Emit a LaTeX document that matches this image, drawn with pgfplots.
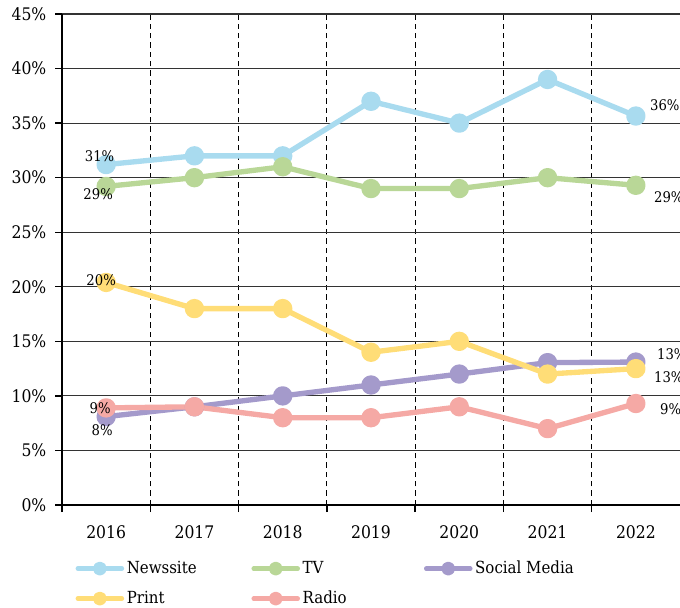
\documentclass[border=0pt]{standalone}
\usepackage{pgfplots}
\pgfplotsset{compat=1.18}
\usepackage{fontspec}
\setmainfont{DejaVu Serif Condensed}
\definecolor{cNews}{HTML}{A9DBEF}
\definecolor{cTV}{HTML}{B9D797}
\definecolor{cSoc}{HTML}{A49ACB}
\definecolor{cPrint}{HTML}{FFDD77}
\definecolor{cRadio}{HTML}{F5A9A5}
\begin{document}
\begin{tikzpicture}
\begin{axis}[name=ax, scale only axis, width=463.5pt, height=368.25pt,
  xmin=2015.5, xmax=2022.5, ymin=0, ymax=45, clip=false,
  axis x line=bottom, axis y line=left,
  axis line style={-, line width=1.5pt, black},
  xtick={2016,2017,2018,2019,2020,2021,2022},
  xticklabels={2016,2017,2018,2019,2020,2021,2022},
  minor xtick={2015.5,2016.5,2017.5,2018.5,2019.5,2020.5,2021.5},
  ytick={0,5,...,45},
  yticklabel={\pgfmathprintnumber{\tick}\%},
  /pgf/number format/assume math mode=true,
  tick align=outside, major tick length=5.25pt, minor tick length=5.25pt,
  major x tick style={draw=none},
  minor x tick style={black, line width=1pt},
  y tick style={black, line width=1pt},
  xminorgrids=true, ymajorgrids=true,
  minor x grid style={black, line width=0.8pt, dash pattern=on 4pt off 3pt},
  major y grid style={black!80, line width=0.8pt},
  ticklabel style={font=\fontsize{13}{15}\selectfont},
  yticklabel style={xshift=-3pt},
  xticklabel style={yshift=-7pt},
  every axis plot/.append style={line width=4pt, mark=*, mark size=5.25pt, line join=round},
  legend columns=3,
  legend cell align=left,
  legend style={at={(0,0)}, anchor=north west, xshift=10pt, yshift=-40pt,
    draw=none, fill=none, inner sep=0pt, row sep=7.5pt,
    font=\fontsize{12.5}{15}\selectfont},
  legend image code/.code={\draw[#1, line width=3.4pt, line cap=round] (0pt,0pt) -- (33pt,0pt); \fill[#1] (16.5pt,0pt) circle (3.2pt);},
]
\addplot[color=cNews] coordinates {(2016,31.2) (2017,32) (2018,32) (2019,37) (2020,35) (2021,39) (2022,35.65)};
\addlegendentry{\makebox[91.5pt][l]{Newssite}}
\addplot[color=cTV] coordinates {(2016,29.2) (2017,30) (2018,31) (2019,29) (2020,29) (2021,30) (2022,29.3)};
\addlegendentry{\makebox[89pt][l]{TV}}
\addplot[color=cSoc] coordinates {(2016,8.1) (2017,9) (2018,10) (2019,11) (2020,12) (2021,13.05) (2022,13.1)};
\addlegendentry{Social Media}
\addplot[color=cPrint] coordinates {(2016,20.4) (2017,18) (2018,18) (2019,14) (2020,15) (2021,12) (2022,12.5)};
\addlegendentry{\makebox[91.5pt][l]{Print}}
\addplot[color=cRadio] coordinates {(2016,8.9) (2017,9) (2018,8) (2019,8) (2020,9) (2021,7) (2022,9.3)};
\addlegendentry{\makebox[89pt][l]{Radio}}
\coordinate (n1) at (axis cs:2016,31.2);
\coordinate (t1) at (axis cs:2016,29.2);
\coordinate (p1) at (axis cs:2016,20.4);
\coordinate (r1) at (axis cs:2016,8.9);
\coordinate (s1) at (axis cs:2016,8.1);
\coordinate (n7) at (axis cs:2022,35.65);
\coordinate (t7) at (axis cs:2022,29.3);
\coordinate (s7) at (axis cs:2022,13.1);
\coordinate (p7) at (axis cs:2022,12.5);
\coordinate (r7) at (axis cs:2022,9.3);
\end{axis}
\begin{scope}[every node/.style={font=\fontsize{11}{13}\selectfont, inner sep=0pt}]
\node[xshift=-4.9pt, yshift=6pt] at (n1) {31\%};
\node[xshift=-6pt, yshift=-6pt] at (t1) {29\%};
\node[xshift=-3.75pt, yshift=1.5pt] at (p1) {20\%};
\node[xshift=-4.5pt, yshift=0pt] at (r1) {9\%};
\node[xshift=-3pt, yshift=-10.5pt] at (s1) {8\%};
\node[anchor=west, xshift=10.5pt, yshift=8.25pt] at (n7) {36\%};
\node[anchor=west, xshift=13.5pt, yshift=-9pt] at (t7) {29\%};
\node[anchor=west, xshift=15.75pt, yshift=6pt] at (s7) {13\%};
\node[anchor=west, xshift=13.5pt, yshift=-6.75pt] at (p7) {13\%};
\node[anchor=west, xshift=18pt, yshift=-4.5pt] at (r7) {9\%};
\end{scope}
\pgfresetboundingbox
\path ([xshift=-46.5pt,yshift=-76.5pt]ax.south west) rectangle ([yshift=10.5pt]ax.north east);
\end{tikzpicture}
\end{document}
